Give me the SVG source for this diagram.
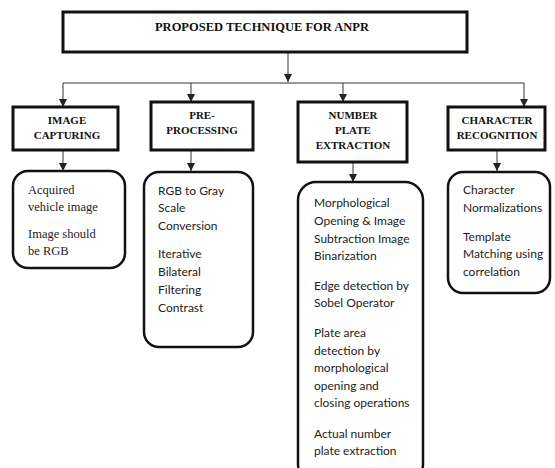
<svg xmlns="http://www.w3.org/2000/svg" width="555" height="468" viewBox="0 0 555 468">
<defs>
<marker id="ah" viewBox="0 0 8 8" refX="8" refY="4" markerWidth="8" markerHeight="8" markerUnits="userSpaceOnUse" orient="auto">
<path d="M0,0 L8,4 L0,8 z" fill="#222"/>
</marker>
<style>
.hd{fill:#fff;stroke:#111;stroke-width:3}
.rb{fill:#fff;stroke:#111;stroke-width:2.5}
.ht{font-family:"Liberation Serif","Times New Roman",serif;font-weight:bold;font-size:11px;fill:#111;text-anchor:middle}
.st{font-family:"Liberation Serif","Times New Roman",serif;font-size:12.5px;fill:#222}
.ct{font-family:Lato,"Liberation Sans",sans-serif;font-size:12px;fill:#222}
.cn{fill:none;stroke:#333;stroke-width:1}
</style>
</defs>
<rect width="555" height="468" fill="#fff"/>
<g id="connectors">
<path class="cn" d="M288,52 V82" marker-end="url(#ah)"/>
<path class="cn" d="M63,83 H524"/>
<path class="cn" d="M63,83 V107" marker-end="url(#ah)"/>
<path class="cn" d="M191,83 V102" marker-end="url(#ah)"/>
<path class="cn" d="M343,83 V102" marker-end="url(#ah)"/>
<path class="cn" d="M524,83 V107" marker-end="url(#ah)"/>
<path class="cn" d="M63,150 V171" marker-end="url(#ah)"/>
<path class="cn" d="M191,150 V171" marker-end="url(#ah)"/>
<path class="cn" d="M353,162 V182" marker-end="url(#ah)"/>
<path class="cn" d="M497,150 V171" marker-end="url(#ah)"/>
</g>
<g id="title">
<rect class="hd" x="63" y="12" width="404" height="40"/>
<text class="ht" x="262" y="31" style="font-size:12.5px">PROPOSED TECHNIQUE FOR ANPR</text>
</g>
<g id="image-capturing">
<rect class="hd" x="13" y="107" width="105" height="43"/>
<text class="ht" x="67" y="124">IMAGE</text>
<text class="ht" x="67" y="139">CAPTURING</text>
</g>
<g id="pre-processing">
<rect class="hd" x="151" y="102" width="102" height="48"/>
<text class="ht" x="202" y="119">PRE-</text>
<text class="ht" x="202" y="134">PROCESSING</text>
</g>
<g id="number-plate-extraction">
<rect class="hd" x="298" y="102" width="109" height="60"/>
<text class="ht" x="353" y="119">NUMBER</text>
<text class="ht" x="353" y="134">PLATE</text>
<text class="ht" x="353" y="149">EXTRACTION</text>
</g>
<g id="character-recognition">
<rect class="hd" x="448" y="107" width="97" height="43"/>
<text class="ht" x="497" y="124">CHARACTER</text>
<text class="ht" x="497" y="139">RECOGNITION</text>
</g>
<g id="capture-steps">
<rect class="rb" x="13" y="171" width="112" height="97" rx="15"/>
<text class="st" x="28" y="194">Acquired</text>
<text class="st" x="28" y="211">vehicle image</text>
<text class="st" x="28" y="238">Image should</text>
<text class="st" x="28" y="255">be RGB</text>
</g>
<g id="preprocessing-steps">
<rect class="rb" x="144" y="172" width="109" height="175" rx="15"/>
<text class="ct" x="158" y="195">RGB to Gray</text>
<text class="ct" x="158" y="212">Scale</text>
<text class="ct" x="158" y="230">Conversion</text>
<text class="ct" x="158" y="258">Iterative</text>
<text class="ct" x="158" y="276">Bilateral</text>
<text class="ct" x="158" y="294">Filtering</text>
<text class="ct" x="158" y="312">Contrast</text>
</g>
<g id="extraction-steps">
<rect class="rb" x="298" y="182" width="125" height="300" rx="18"/>
<text class="ct" x="314" y="207">Morphological</text>
<text class="ct" x="314" y="225">Opening &amp; Image</text>
<text class="ct" x="314" y="243">Subtraction Image</text>
<text class="ct" x="314" y="260">Binarization</text>
<text class="ct" x="314" y="290">Edge detection by</text>
<text class="ct" x="314" y="307">Sobel Operator</text>
<text class="ct" x="314" y="337">Plate area</text>
<text class="ct" x="314" y="355">detection by</text>
<text class="ct" x="314" y="372">morphological</text>
<text class="ct" x="314" y="390">opening and</text>
<text class="ct" x="314" y="407">closing operations</text>
<text class="ct" x="314" y="438">Actual number</text>
<text class="ct" x="314" y="455">plate extraction</text>
</g>
<g id="recognition-steps">
<rect class="rb" x="448" y="172" width="102" height="121" rx="15"/>
<text class="ct" x="463" y="194">Character</text>
<text class="ct" x="463" y="212">Normalizations</text>
<text class="ct" x="463" y="241">Template</text>
<text class="ct" x="463" y="258">Matching using</text>
<text class="ct" x="463" y="276">correlation</text>
</g>
</svg>
